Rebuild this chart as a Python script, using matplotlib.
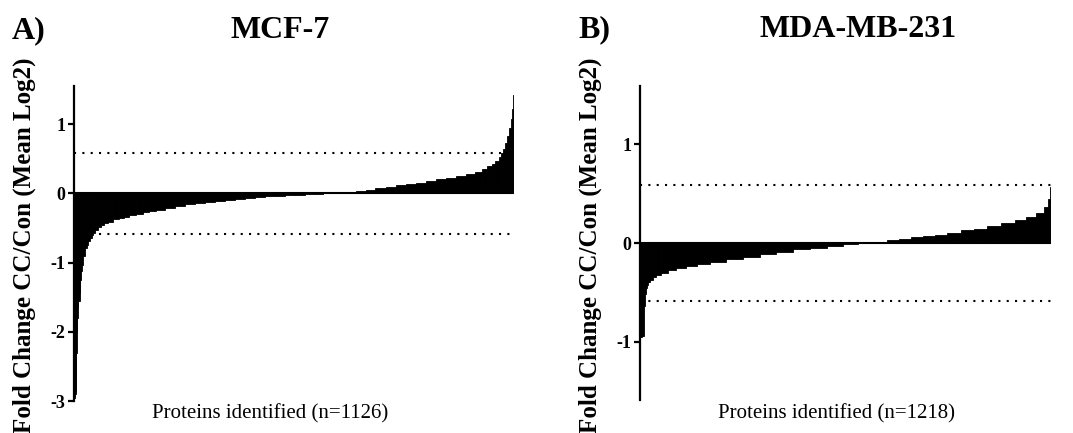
import numpy as np
import matplotlib
matplotlib.use("Agg")
import matplotlib.pyplot as plt

# ---------------- data (sorted fold changes) ----------------
mcf7_n = 1126
mcf7_rank = [0, 1, 2, 3, 4, 5, 6, 7, 8, 9, 13, 15, 17, 19, 21, 26, 30, 34, 39, 43, 47, 51, 57, 64,
             72, 82, 93, 108, 121, 134, 149, 167, 185, 200, 219, 244, 270, 296, 321, 347, 373,
             398, 424, 450, 476, 501, 527, 553, 578, 604, 630, 643, 656, 681, 707, 733, 758,
             784, 810, 835, 861, 887, 913, 938, 964, 990, 1015, 1036, 1051, 1064, 1074, 1082,
             1090, 1095, 1100, 1105, 1110, 1116, 1119, 1122, 1125]
mcf7_fc = [-2.98, -2.96, -2.93, -2.90, -2.85, -2.60, -2.30, -2.00, -1.80, -1.65, -1.55, -1.44,
           -1.25, -1.12, -1.03, -0.90, -0.79, -0.75, -0.69, -0.65, -0.60, -0.57, -0.53, -0.49,
           -0.46, -0.43, -0.41, -0.375, -0.355, -0.34, -0.315, -0.295, -0.275, -0.255, -0.235,
           -0.21, -0.185, -0.16, -0.14, -0.12, -0.105, -0.09, -0.075, -0.063, -0.052, -0.042,
           -0.033, -0.025, -0.018, -0.010, -0.003, 0.0, 0.004, 0.010, 0.020, 0.035, 0.055,
           0.075, 0.095, 0.115, 0.135, 0.155, 0.18, 0.20, 0.22, 0.245, 0.28, 0.315, 0.35,
           0.39, 0.43, 0.47, 0.52, 0.58, 0.64, 0.73, 0.83, 0.95, 1.08, 1.22, 1.42]

mda_n = 1218
mda_rank = [0, 3, 6, 9, 13, 16, 19, 22, 27, 33, 42, 51, 71, 92, 122, 152, 182, 229, 280, 331,
            378, 429, 479, 527, 578, 622, 667, 712, 750, 786, 822, 855, 890, 929, 971, 1010,
            1048, 1090, 1129, 1158, 1188, 1203, 1212, 1217]
mda_fc = [-0.955, -0.95, -0.945, -0.94, -0.64, -0.52, -0.46, -0.43, -0.40, -0.375, -0.345,
          -0.325, -0.30, -0.277, -0.257, -0.237, -0.217, -0.19, -0.166, -0.139, -0.115,
          -0.088, -0.065, -0.048, -0.030, -0.012, 0.003, 0.015, 0.029, 0.041, 0.056, 0.069,
          0.084, 0.105, 0.127, 0.145, 0.169, 0.198, 0.235, 0.265, 0.30, 0.36, 0.45, 0.57]

titles = ["MCF-7", "MDA-MB-231"]
letters = ["A)", "B)"]
ylabel = "Fold Change CC/Con (Mean Log2)"
xlabels = ["Proteins identified (n=1126)", "Proteins identified (n=1218)"]
thresh = np.log2(1.5)
yticks_a = [-3, -2, -1, 0, 1]
yticks_b = [-1, 0, 1]

# ---------------- figure ----------------
W, H = 1073, 433
plt.rcParams['font.family'] = ['Liberation Serif', 'DejaVu Serif']
plt.rcParams['axes.unicode_minus'] = False
fig = plt.figure(figsize=(W / 100, H / 100), dpi=100)


def fx(px):
    return px / W


def fy(py):
    return 1 - py / H


def draw(ax, ranks, vals, n, ylim, yticks):
    r = np.asarray(ranks, dtype=float)
    edges = np.concatenate([[0], (r[:-1] + r[1:]) / 2 + 0.5, [n]])
    ax.bar(edges[:-1], vals, width=np.diff(edges), align='edge', color='black',
           edgecolor='black', linewidth=0.6, zorder=3)
    ax.plot([0, n], [0, 0], color='black', lw=1.5, zorder=3, solid_capstyle='butt')
    for t in (thresh, -thresh):
        ax.plot([0, n], [t, t], color='black', lw=1.5, linestyle=(0, (1, 3)),
                dash_capstyle='butt', zorder=2)
    ax.set_xlim(0, n)
    ax.set_ylim(*ylim)
    for s in ['top', 'right', 'bottom']:
        ax.spines[s].set_visible(False)
    ax.spines['left'].set_linewidth(1.6)
    ax.set_xticks([])
    ax.set_yticks(yticks)
    ax.tick_params(axis='y', length=4.5, width=1.6, pad=1.5, labelsize=13)
    for lb in ax.get_yticklabels():
        lb.set_fontweight('bold')
    ax.patch.set_alpha(0)


axA = fig.add_axes([fx(74), fy(401), fx(514 - 74), (401 - 86) / H])
draw(axA, mcf7_rank, mcf7_fc, mcf7_n, (-3, 1.55), yticks_a)
axB = fig.add_axes([fx(640), fy(400), fx(1051 - 640), (400 - 86) / H])
draw(axB, mda_rank, mda_fc, mda_n, (-1.59, 1.59), yticks_b)

# titles / letters
fig.text(fx(280), fy(38), titles[0], ha='center', va='baseline', fontsize=23, fontweight='bold')
fig.text(fx(858), fy(37), titles[1], ha='center', va='baseline', fontsize=23, fontweight='bold')
fig.text(fx(12), fy(38), letters[0], ha='left', va='baseline', fontsize=23, fontweight='bold')
fig.text(fx(578), fy(37), letters[1], ha='left', va='baseline', fontsize=23, fontweight='bold')

# y labels
fig.text(fx(24), fy(245), ylabel, rotation=90, ha='center', va='center', fontsize=18,
         fontweight='bold')
fig.text(fx(590), fy(245), ylabel, rotation=90, ha='center', va='center', fontsize=18,
         fontweight='bold')

# x labels
fig.text(fx(270), fy(418), xlabels[0], ha='center', va='baseline', fontsize=15)
fig.text(fx(836), fy(418), xlabels[1], ha='center', va='baseline', fontsize=15)

fig.savefig("out.png", dpi=100)
